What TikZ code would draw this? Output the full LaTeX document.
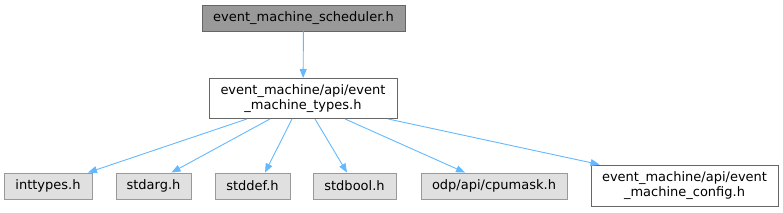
\documentclass[tikz,border=0pt]{standalone}
\usepackage{fontspec}
\setmainfont{DejaVu Sans}
\usetikzlibrary{arrows.meta}
\definecolor{edgeblue}{HTML}{63B8FF}
\definecolor{topfill}{HTML}{999999}
\definecolor{topdraw}{HTML}{666666}
\definecolor{grayfill}{HTML}{E0E0E0}
\definecolor{graydraw}{HTML}{999999}
\tikzset{
  base/.style={rectangle, inner sep=0pt, font=\fontsize{13}{15}\selectfont, align=center, line width=0.9pt},
  topbox/.style={base, fill=topfill, draw=topdraw},
  whitebox/.style={base, fill=white, draw=black!60},
  sysbox/.style={base, fill=grayfill, draw=graydraw},
  conn/.style={draw=edgeblue, line width=0.9pt, -{Stealth[length=9pt,width=7pt,inset=0pt]}}
}
\begin{document}
\begin{tikzpicture}[x=1pt,y=-1pt]
\useasboundingbox (0,0) rectangle (783,212);
\node[topbox, minimum width=203pt, minimum height=26pt] (top) at (303.5,18) {event\_machine\_scheduler.h};
\node[whitebox, minimum width=188pt, minimum height=40pt] (mid) at (303,98.5) {event\_machine/api/event\\\_machine\_types.h};
\node[sysbox, minimum width=88pt, minimum height=26pt] (inttypes) at (48,186) {inttypes.h};
\node[sysbox, minimum width=75pt, minimum height=26pt] (stdarg) at (153.5,186) {stdarg.h};
\node[sysbox, minimum width=75pt, minimum height=26pt] (stddef) at (252.5,186) {stddef.h};
\node[sysbox, minimum width=83pt, minimum height=26pt] (stdbool) at (354.5,186) {stdbool.h};
\node[sysbox, minimum width=146pt, minimum height=26pt] (cpumask) at (494,186) {odp/api/cpumask.h};
\node[whitebox, minimum width=187pt, minimum height=41pt] (config) at (684.5,185.5) {event\_machine/api/event\\\_machine\_config.h};
\draw[conn] (top) -- (mid);
\draw[conn] ([xshift=-56pt]mid.south) -- ([xshift=40pt]inttypes.north);
\draw[conn] ([xshift=-33pt]mid.south) -- ([xshift=18pt]stdarg.north);
\draw[conn] ([xshift=-11pt]mid.south) -- ([xshift=12.5pt]stddef.north);
\draw[conn] ([xshift=12pt]mid.south) -- ([xshift=-7.5pt]stdbool.north);
\draw[conn] ([xshift=42pt]mid.south) -- ([xshift=-29pt]cpumask.north);
\draw[conn] ([xshift=85pt]mid.south) -- ([xshift=9pt]config.north west);
\end{tikzpicture}
\end{document}
